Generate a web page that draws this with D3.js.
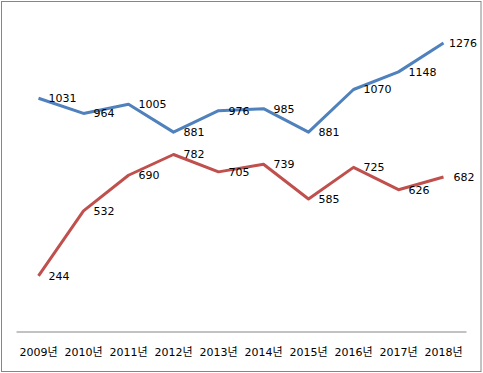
<!DOCTYPE html>
<html>
<head>
<meta charset="utf-8">
<script src="https://cdn.jsdelivr.net/npm/d3@7"></script>
<style>
  body { margin: 0; background: #fff; }
  svg text { font-family: "DejaVu Sans", "Noto Sans CJK KR", sans-serif; }
</style>
</head>
<body>
<div id="chart"></div>
<script>
var years = ["2009년", "2010년", "2011년", "2012년", "2013년", "2014년", "2015년", "2016년", "2017년", "2018년"];
var blueValues = [1031, 964, 1005, 881, 976, 985, 881, 1070, 1148, 1276];
var redValues = [244, 532, 690, 782, 705, 739, 585, 725, 626, 682];
var yMax = 1400;

var width = 483, height = 373;
var margin = {top: 15, right: 17, bottom: 42, left: 16};

var svg = d3.select("#chart").append("svg")
    .attr("width", width)
    .attr("height", height);

// outer frame
svg.append("rect")
    .attr("x", 1.5).attr("y", 1.5)
    .attr("width", width - 3.5).attr("height", height - 3)
    .attr("fill", "#fff")
    .attr("stroke", "#868686")
    .attr("stroke-width", 1);

var x = d3.scaleBand()
    .domain(years)
    .range([margin.left, width - margin.right]);

var y = d3.scaleLinear()
    .domain([0, yMax])
    .range([height - margin.bottom, margin.top]);

// category axis
var xAxis = svg.append("g")
    .attr("transform", "translate(0," + (y(0) + 0.5) + ")")
    .call(d3.axisBottom(x).tickSize(0).tickPadding(17));
xAxis.select(".domain").attr("stroke", "#868686");
xAxis.selectAll("text")
    .attr("font-size", "11px")
    .attr("fill", "#000");

var line = d3.line()
    .x(function(d, i) { return x(years[i]) + x.bandwidth() / 2; })
    .y(function(d) { return y(d); });

function draw_series(values, color){
    svg.append("path")
        .datum(values)
        .attr("d", line)
        .attr("fill", "none")
        .attr("stroke", color)
        .attr("stroke-width", 3)
        .attr("stroke-linejoin", "round");

    svg.append("g").selectAll("text")
        .data(values)
      .enter().append("text")
        .attr("x", function(d, i) { return x(years[i]) + x.bandwidth() / 2 + 10; })
        .attr("y", function(d) { return y(d); })
        .attr("dy", "0.35em")
        .attr("font-size", "11px")
        .attr("fill", "#000")
        .text(function(d) { return d; })
        .each(function() {
            // keep labels inside the frame
            var w = this.getComputedTextLength();
            var lx = +d3.select(this).attr("x");
            if (lx + w > width - 6) d3.select(this).attr("x", width - 6 - w);
        });
}

draw_series(blueValues, "#4F81BD");
draw_series(redValues, "#C0504D");
</script>
</body>
</html>
